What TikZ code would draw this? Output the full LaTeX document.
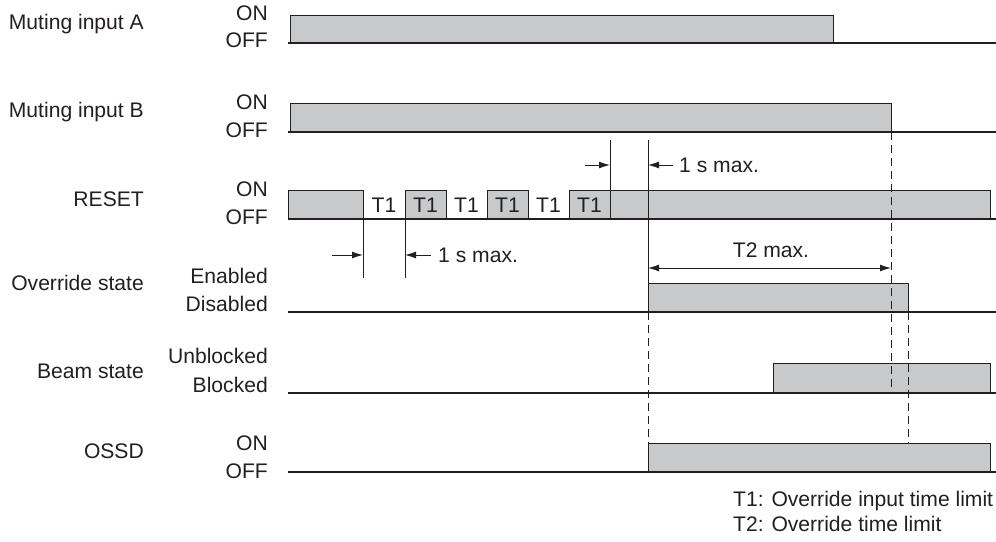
\documentclass[tikz,border=0pt]{standalone}
\usepackage{fontspec}
\setmainfont{Liberation Sans}
\usetikzlibrary{arrows.meta}
\definecolor{ink}{HTML}{231F20}
\definecolor{pulsegray}{HTML}{C8C9CB}
\tikzset{
  lbl/.style={inner sep=0pt, text=ink, font=\fontsize{21.1}{24}\selectfont},
  sigline/.style={draw=ink, line width=2.2pt},
  pulse/.style={draw=ink, line width=1pt, fill=pulsegray},
  guide/.style={draw=ink, line width=1pt},
  dashguide/.style={draw=ink, line width=1pt, dash pattern=on 8pt off 5pt},
  dimarrow/.style={draw=ink, line width=1pt, -{Latex[length=11pt,width=7pt]}},
  dimboth/.style={draw=ink, line width=1pt, {Latex[length=11pt,width=7pt]}-{Latex[length=11pt,width=7pt]}}
}
\begin{document}
\begin{tikzpicture}[x=1pt,y=-1pt]
\useasboundingbox (0,0) rectangle (996,541);
\fill[white] (0,0) rectangle (996,541);

% signal names
\node[lbl, anchor=base east] (nA) at (144,29.3) {Muting input A};
\node[lbl, anchor=base east] (nB) at (144,117.3) {Muting input B};
\node[lbl, anchor=base east] (nR) at (144,206.3) {RESET};
\node[lbl, anchor=base east] (nO) at (144,290.3) {Override state};
\node[lbl, anchor=base east] (nBe) at (144,378.3) {Beam state};
\node[lbl, anchor=base east] (nS) at (144,458.3) {OSSD};

% level names
\node[lbl, anchor=base east] (aon) at (268,20) {ON};
\node[lbl, anchor=base east] (aoff) at (268,47.3) {OFF};
\node[lbl, anchor=base east] (bon) at (268,109.3) {ON};
\node[lbl, anchor=base east] (boff) at (268,137.3) {OFF};
\node[lbl, anchor=base east] (ron) at (268,196.3) {ON};
\node[lbl, anchor=base east] (roff) at (268,224.3) {OFF};
\node[lbl, anchor=base east] (oon) at (268,283.3) {Enabled};
\node[lbl, anchor=base east] (ooff) at (268,311.3) {Disabled};
\node[lbl, anchor=base east] (beon) at (268,363.3) {Unblocked};
\node[lbl, anchor=base east] (beoff) at (268,392.3) {Blocked};
\node[lbl, anchor=base east] (son) at (268,450.3) {ON};
\node[lbl, anchor=base east] (soff) at (268,478.3) {OFF};

% pulses
\draw[pulse] (290,43) -- (290,15) -- (833,15) -- (833,43);
\draw[pulse] (290,132) -- (290,103) -- (891,103) -- (891,132);
\draw[pulse] (288,219) -- (288,190) -- (363,190) -- (363,219);
\draw[pulse] (405,219) -- (405,190) -- (446,190) -- (446,219);
\draw[pulse] (487,219) -- (487,190) -- (528,190) -- (528,219);
\draw[pulse] (569,219) -- (569,190) -- (990,190) -- (990,219);
\draw[pulse] (648,312) -- (648,283) -- (908,283) -- (908,312);
\draw[pulse] (773,393) -- (773,363) -- (990,363) -- (990,393);
\draw[pulse] (648,472) -- (648,443) -- (990,443) -- (990,472);

% T1 labels
\node[lbl, anchor=base] (t1a) at (384,212) {T1};
\node[lbl, anchor=base] (t1b) at (425.5,212) {T1};
\node[lbl, anchor=base] (t1c) at (466.5,212) {T1};
\node[lbl, anchor=base] (t1d) at (507.5,212) {T1};
\node[lbl, anchor=base] (t1e) at (548.5,212) {T1};
\node[lbl, anchor=base] (t1f) at (589.5,212) {T1};

% baselines
\draw[sigline] (288,43) -- (996,43);
\draw[sigline] (288,132) -- (996,132);
\draw[sigline] (288,219) -- (996,219);
\draw[sigline] (288,312) -- (996,312);
\draw[sigline] (288,393) -- (996,393);
\draw[sigline] (288,472) -- (996,472);

% guide coordinates
\coordinate (g363t) at (363,219);
\coordinate (g363b) at (363,278);
\coordinate (g405t) at (405,219);
\coordinate (g405b) at (405,278);
\coordinate (g610t) at (610,140);
\coordinate (g610b) at (610,219);
\coordinate (g648t) at (648,140);
\coordinate (g648b) at (648,283);
\coordinate (g648d) at (648,312);
\coordinate (g648e) at (648,443);
\coordinate (g891t) at (891,132);
\coordinate (g891b) at (891,393);
\coordinate (g908t) at (908,312);
\coordinate (g908b) at (908,443);

\draw[guide] (g363t) -- (g363b);
\draw[guide] (g405t) -- (g405b);
\draw[guide] (g610t) -- (g610b);
\draw[guide] (g648t) -- (g648b);
\draw[dashguide] (g648d) -- (g648e);
\draw[dashguide] (g891t) -- (g891b);
\draw[dashguide] (g908t) -- (g908b);

% 1 s max (lower)
\coordinate (la1) at (332,255);
\coordinate (la2) at (363,255);
\coordinate (lb1) at (431,255);
\coordinate (lb2) at (405,255);
\draw[dimarrow] (la1) -- (la2);
\draw[dimarrow] (lb1) -- (lb2);
\node[lbl, anchor=base west] (smaxl) at (438,262) {1 s max.};

% 1 s max (upper)
\coordinate (ua1) at (585,165);
\coordinate (ua2) at (610,165);
\coordinate (ub1) at (673,165);
\coordinate (ub2) at (648,165);
\draw[dimarrow] (ua1) -- (ua2);
\draw[dimarrow] (ub1) -- (ub2);
\node[lbl, anchor=base west] (smaxu) at (679,172) {1 s max.};

% T2 max
\coordinate (t2a) at (648,268);
\coordinate (t2b) at (891,268);
\draw[dimboth] (t2a) -- (t2b);
\node[lbl, anchor=base] (t2lbl) at (771,257) {T2 max.};

% legend
\node[lbl, anchor=base west] (leg1) at (733,506) {T1: Override input time limit};
\node[lbl, anchor=base west] (leg2) at (733,531) {T2: Override time limit};
\end{tikzpicture}
\end{document}
